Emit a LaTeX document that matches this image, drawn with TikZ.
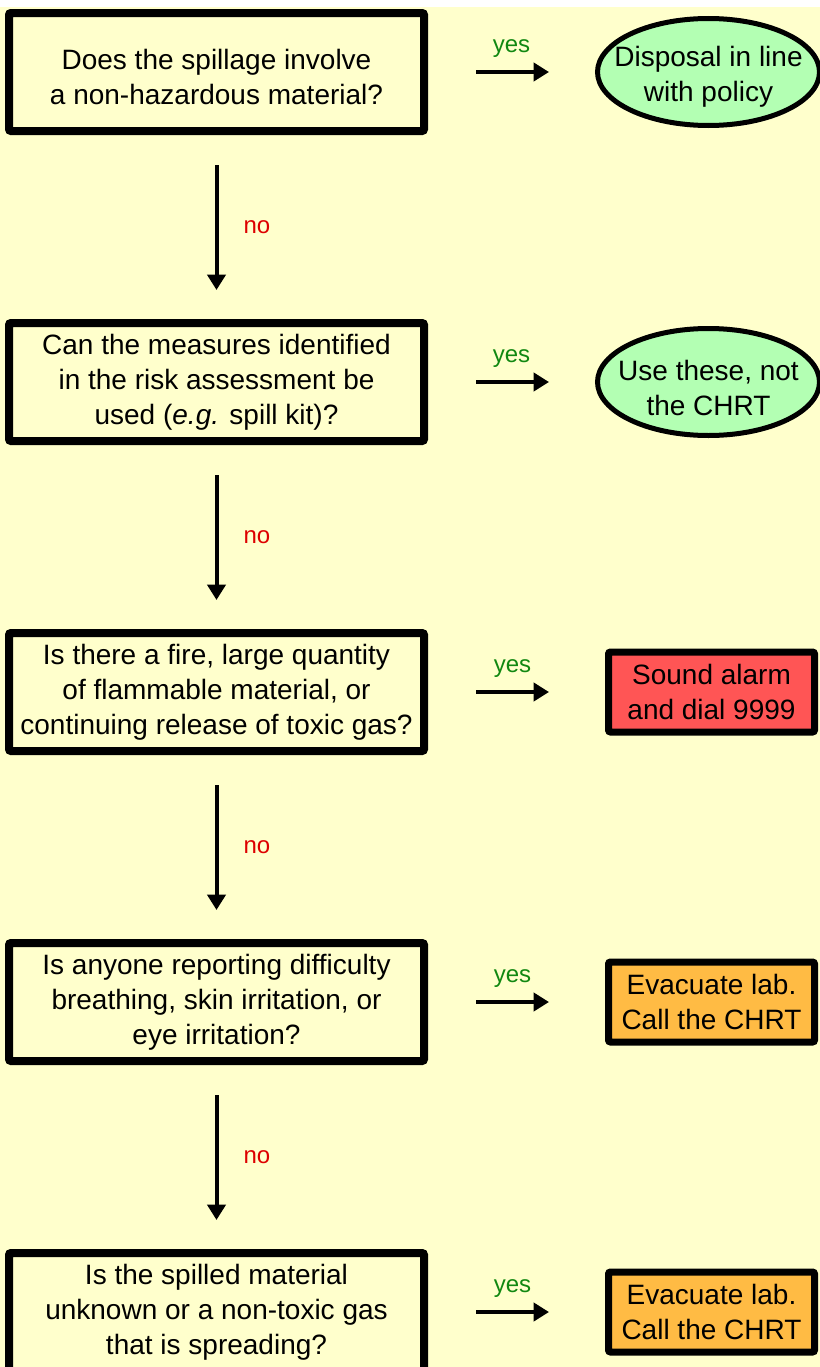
\documentclass[tikz,border=0pt]{standalone}
\usepackage{fontspec}
\setmainfont{Liberation Sans}
\usetikzlibrary{shapes.geometric,arrows.meta}
\definecolor{bg}{HTML}{FFFFCC}
\definecolor{okgreen}{HTML}{B3FFB3}
\definecolor{alarmred}{HTML}{FF5555}
\definecolor{evacorange}{HTML}{FFBB44}
\definecolor{yesgreen}{HTML}{118811}
\definecolor{nored}{HTML}{DD0000}
\newcommand{\mainfs}{\fontsize{21}{26.25}\selectfont}
\newcommand{\lblfs}{\fontsize{18}{22}\selectfont}
\begin{document}
\begin{tikzpicture}[x=0.75pt,y=-0.75pt,
  question/.style={draw, line width=6pt, fill=bg, rounded corners=1.5pt,
    minimum width=311.25pt, minimum height=88.5pt, inner sep=0pt, align=center, font=\mainfs},
  okoval/.style={draw, line width=3.75pt, ellipse, fill=okgreen,
    minimum width=166.5pt, minimum height=80.25pt, inner sep=0pt},
  boxtext/.style={inner sep=0pt, align=center, font=\mainfs},
  actbox/.style={draw, line width=5.25pt, rounded corners=1.5pt,
    minimum width=154.5pt, minimum height=60pt, inner sep=0pt, align=center, font=\mainfs},
  conn/.style={line width=3pt, -{Triangle[length=11.5pt,width=13.5pt]}},
  down/.style={conn, shorten <=22.5pt, shorten >=21.75pt},
  yeslbl/.style={midway, anchor=south, inner sep=0pt, yshift=9.75pt, font=\lblfs, text=yesgreen},
  nolbl/.style={midway, anchor=west, inner sep=0pt, xshift=18.75pt, font=\lblfs, text=nored}
]
\useasboundingbox (0,0) rectangle (820,1367);
\clip (0,0) rectangle (820,1367);
\fill[bg] (0,0) rectangle (820,1367);
\fill[white] (0,0) rectangle (820,7);

% questions
\node[question] (q1) at (216.5,72) {};
\node[boxtext] (q1t) at (216.5,77) {Does the spillage involve\\a non-hazardous material?};
\node[question] (q2) at (216.5,382) {Can the measures identified\\in the risk assessment be\\used (\textit{e.g.} spill kit)?};
\node[question] (q3) at (216.5,692) {Is there a fire, large quantity\\of flammable material, or\\continuing release of toxic gas?};
\node[question] (q4) at (216.5,1002) {Is anyone reporting difficulty\\breathing, skin irritation, or\\eye irritation?};
\node[question] (q5) at (216.5,1312) {Is the spilled material\\unknown or a non-toxic gas\\that is spreading?};

% outcomes
\node[okoval] (o1) at (708.5,72) {};
\node[boxtext] (o1t) at (708.5,77) {Disposal in line\\with policy};
\node[okoval] (o2) at (708.5,382) {};
\node[boxtext] (o2t) at (708.5,388) {Use these, not\\the CHRT};
\node[actbox, fill=alarmred] (o3) at (711.5,692) {Sound alarm\\and dial 9999};
\node[actbox, fill=evacorange] (o4) at (711.5,1002) {Evacuate lab.\\Call the CHRT};
\node[actbox, fill=evacorange] (o5) at (711.5,1312) {Evacuate lab.\\Call the CHRT};

% yes arrows
\draw[conn, shorten <=36pt, shorten >=34.5pt] (q1) -- (o1) node[yeslbl] {yes};
\draw[conn, shorten <=36pt, shorten >=34.5pt] (q2) -- (o2) node[yeslbl] {yes};
\draw[conn, shorten <=36pt, shorten >=42pt] (q3) -- (o3) node[yeslbl, xshift=-3pt] {yes};
\draw[conn, shorten <=36pt, shorten >=42pt] (q4) -- (o4) node[yeslbl, xshift=-3pt] {yes};
\draw[conn, shorten <=36pt, shorten >=42pt] (q5) -- (o5) node[yeslbl, xshift=-3pt] {yes};

% no arrows
\draw[down] (q1) -- (q2) node[nolbl] {no};
\draw[down] (q2) -- (q3) node[nolbl] {no};
\draw[down] (q3) -- (q4) node[nolbl] {no};
\draw[down] (q4) -- (q5) node[nolbl] {no};
\end{tikzpicture}
\end{document}
